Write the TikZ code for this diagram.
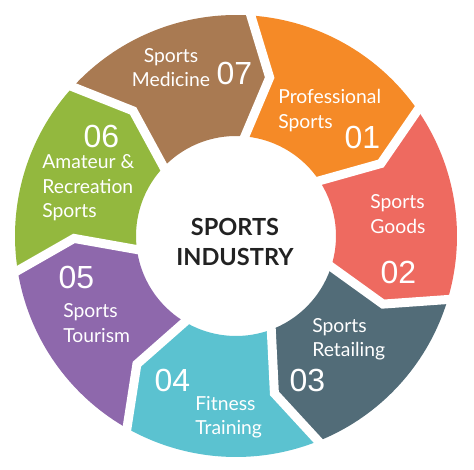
\documentclass[tikz,border=0pt]{standalone}
\usepackage{fontspec}
\setmainfont{Lato}
\newfontfamily\numfont{Liberation Sans}
\usetikzlibrary{calc}
\definecolor{segorange}{HTML}{F58A27}
\definecolor{segsalmon}{HTML}{EE6A60}
\definecolor{segslate}{HTML}{526C78}
\definecolor{segcyan}{HTML}{5BC2D0}
\definecolor{segpurple}{HTML}{8E68AC}
\definecolor{seggreen}{HTML}{93B83E}
\definecolor{segbrown}{HTML}{A97A52}
\definecolor{hubgray}{HTML}{222222}
\newcommand{\ringout}{221}
\newcommand{\ringin}{100}
\newcommand{\ringmid}{162}
\newcommand{\gapout}{230}
\newcommand{\gapin}{90}
\newcommand{\tipshift}{9}
\newcommand{\segangle}{51.4286}
\newcommand{\startangle}{87}
\tikzset{
  seglabel/.style={text=white, inner sep=0pt, align=left, anchor=west,
    font=\fontsize{11}{13.9}\selectfont},
  segnum/.style={text=white, inner sep=0pt,
    font=\numfont\fontsize{18.2}{20}\selectfont},
  hubtext/.style={text=hubgray, inner sep=0pt, align=center,
    font=\bfseries\fontsize{13.4}{17}\selectfont},
  gapline/.style={draw=white, line width=0.18cm, line join=miter},
}
\begin{document}
\begin{tikzpicture}[x=0.02cm,y=0.02cm]
    \useasboundingbox (-236,-234) rectangle (238,236);
    % ring segments, clockwise from 01
    \foreach \segcol [count=\i from 0] in
      {segorange,segsalmon,segslate,segcyan,segpurple,seggreen,segbrown}
    {
      \pgfmathsetmacro{\ta}{\startangle-\segangle*\i}
      \pgfmathsetmacro{\tb}{\ta-\segangle}
      \fill[\segcol] (\ta:\ringout)
        arc[start angle=\ta, end angle=\tb, radius=\ringout]
        -- ({\tb-\tipshift}:\ringmid) -- (\tb:\ringin)
        arc[start angle=\tb, end angle=\ta, radius=\ringin]
        -- ({\ta-\tipshift}:\ringmid) -- cycle;
    }
    % white gaps between segments
    \foreach \i in {0,...,6}
    {
      \pgfmathsetmacro{\ta}{\startangle-\segangle*\i}
      \draw[gapline] (\ta:\gapout) -- ({\ta-\tipshift}:\ringmid)
        -- (\ta:\gapin);
    }
    % labels
    \node[seglabel] (lbl01) at (42,125.5) {Professional\\Sports};
    \node[segnum] (num01) at (126.5,99) {01};
    \node[seglabel] (lbl02) at (134,22) {Sports\\Goods};
    \node[segnum] (num02) at (162.5,-36) {02};
    \node[seglabel] (lbl03) at (76,-103.5) {Sports\\Retailing};
    \node[segnum] (num03) at (71.5,-144) {03};
    \node[segnum] (num04) at (-63.5,-144) {04};
    \node[seglabel] (lbl04) at (-41,-181) {Fitness\\Training};
    \node[segnum] (num05) at (-159.5,-41) {05};
    \node[seglabel] (lbl05) at (-173,-87) {Sports\\Tourism};
    \node[segnum] (num06) at (-134.5,100) {06};
    \node[seglabel] (lbl06) at (-194,48) {Amateur \&\\Recreation\\Sports};
    \node[seglabel,anchor=center,align=center] (lbl07) at (-65,168.5)
      {Sports\\Medicine};
    \node[segnum] (num07) at (-1.5,163) {07};
    % hub
    \node[hubtext] (hub) at (-1,-6) {SPORTS\\INDUSTRY};
\end{tikzpicture}
\end{document}
